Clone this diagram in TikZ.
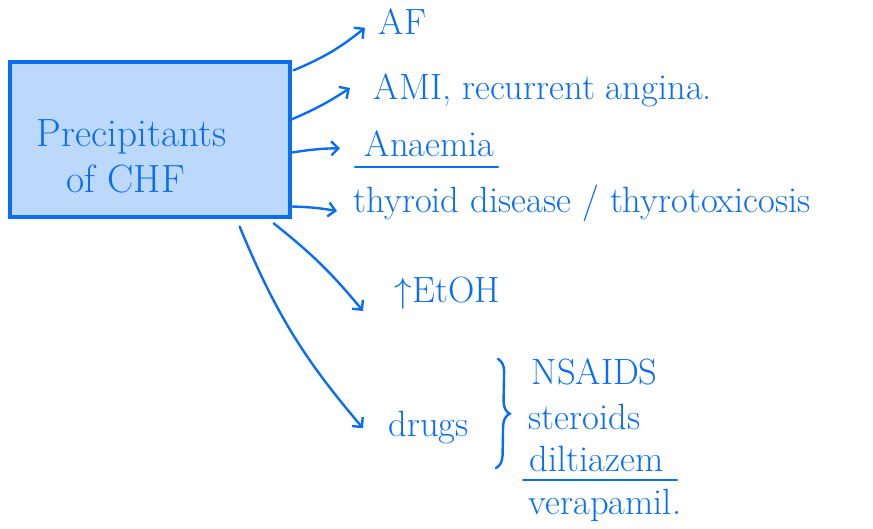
\documentclass[tikz,border=0pt]{standalone}
\usetikzlibrary{arrows.meta,positioning,calc,decorations.pathreplacing}
\definecolor{pen}{HTML}{0A6EF2}
\definecolor{penfill}{HTML}{BCD8FB}

\begin{document}
\begin{tikzpicture}[
  font=\fontsize{26}{30}\selectfont,
  txt/.style={text=pen, anchor=base west, inner sep=1pt},
  boxed/.style={draw=pen, fill=penfill, line width=2.3pt,
                minimum width=7cm, minimum height=3.875cm},
  ar/.style={-{Straight Barb[length=5pt,width=10pt]}, draw=pen,
             line width=1.7pt, line cap=round},
  ul/.style={draw=pen, line width=1.7pt, line cap=round},
]
\useasboundingbox (0,0) rectangle (21.825,13.225);

%% ---------- main box ----------
\node[boxed] (pre) at (3.75,9.74) {};
\node[txt, font=\fontsize{28}{32}\selectfont] (t1) at (0.875,9.55) {Precipitants};
\node[txt, font=\fontsize{28}{32}\selectfont] (t2) at (1.625,8.4) {of CHF};

%% ---------- precipitants ----------
\node[txt] (af)   at (9.425,12.35) {AF};
\node[txt] (ami)  at (9.3,10.725)  {AMI, recurrent angina.};
\node[txt] (ana)  at (9.075,9.3)   {Anaemia};
\node[txt] (thy)  at (8.8,7.9)     {thyroid disease / thyrotoxicosis};
\node[txt] (etoh) at (9.825,5.65)  {$\uparrow$EtOH};
\node[txt] (drug) at (9.675,2.3)   {drugs};

\draw[ar] ($(pre.north east)+(0.05,-0.25)$) to[bend right=8]
  ($(af.base west)+(-0.3,0.18)$);
\draw[ar] ($(pre.east)+(0,0.5)$) to[bend right=5]
  ($(ami.base west)+(-0.55,0.3)$);
\draw[ar] ($(pre.east)+(0,-0.33)$) to[bend left=4]
  ($(ana.base west)+(-0.575,0.22)$);
\draw[ar] ($(pre.south east)+(0,0.3)$) to[bend left=4]
  ($(thy.base west)+(-0.375,0.05)$);
\draw[ar] ($(pre.south east)+(-0.45,-0.12)$) to[bend left=6]
  ($(etoh.base west)+(-0.75,-0.2)$);
\draw[ar] ($(pre.south east)+(-1.3,-0.2)$) to[bend right=9]
  ($(drug.base west)+(-0.6,0.22)$);

\draw[ul] ($(ana.base west)+(-0.2,-0.25)$) -- ($(ana.base east)+(0.05,-0.25)$);

%% ---------- drugs ----------
\node[txt] (nsaid) at (13.25,3.6)   {NSAIDS};
\node[txt] (ster)  at (13.175,2.475) {steroids};
\node[txt] (dilt)  at (13.2,1.425)  {diltiazem};
\node[txt] (vera)  at (13.175,0.35) {verapamil.};

\draw[ul] ($(dilt.base west)+(-0.12,-0.2)$) -- ($(dilt.base east)+(0.3,-0.2)$);
\draw[ul, decorate, decoration={brace, amplitude=9pt}]
  ($(nsaid.base west)+(-0.8,0.65)$) -- ($(dilt.base west)+(-0.8,0.1)$);

\end{tikzpicture}
\end{document}
